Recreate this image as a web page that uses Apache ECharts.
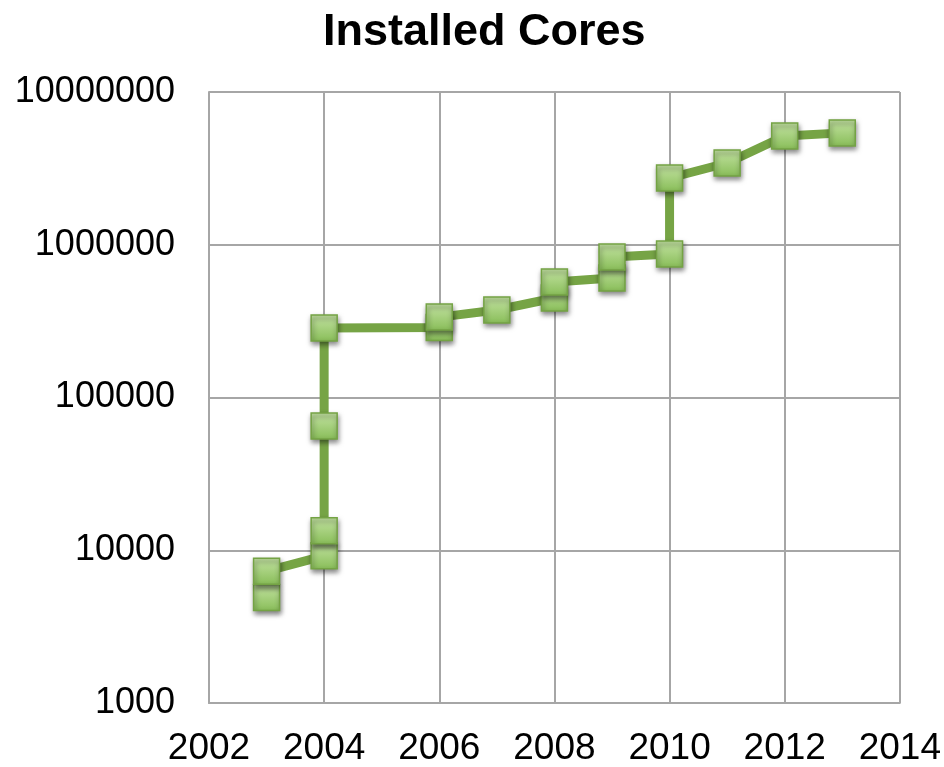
<!DOCTYPE html>
<html>
<head>
<meta charset="utf-8">
<script src="https://cdn.jsdelivr.net/npm/echarts@6/dist/echarts.min.js"></script>
<style>
  html, body { margin: 0; padding: 0; background: #fff; }
  #main { width: 944px; height: 767px; }
</style>
</head>
<body>
<div id="main"></div>
<script>
// years of each reading, in order (some years have several readings)
var years = [2003, 2003, 2004, 2004, 2004, 2004, 2006, 2006, 2007, 2008, 2008, 2009, 2009, 2010, 2010, 2011, 2012, 2013];
// installed cores
var cores = [4900, 7300, 9200, 13400, 65000, 285000, 287000, 336000, 374000, 448000, 570000, 606000, 832000, 870000, 2735000, 3430000, 5150000, 5400000];
var xTicks = [2002, 2004, 2006, 2008, 2010, 2012, 2014];
var yTicks = [1000, 10000, 100000, 1000000, 10000000];

var points = years.map(function (y, i) { return [y, cores[i]]; });

var chart = echarts.init(document.getElementById('main'));

var option = {
  animation: false,
  title: {
    text: 'Installed Cores',
    left: 318,
    top: 5,
    textStyle: { fontFamily: 'Liberation Sans, Arial', fontWeight: 'bold', fontSize: 45, color: '#000' }
  },
  grid: { left: 209, right: 41, top: 92, bottom: 60 },
  xAxis: {
    type: 'value',
    min: xTicks[0],
    max: xTicks[xTicks.length - 1],
    interval: 2,
    axisLine: { show: true, lineStyle: { color: '#a6a6a6', width: 2 } },
    axisTick: { show: false },
    splitLine: { show: true, lineStyle: { color: '#a6a6a6', width: 2 } },
    axisLabel: {
      margin: 27,
      fontFamily: 'Liberation Sans, Arial',
      fontSize: 37,
      color: '#000',
      formatter: function (v) { return String(v); }
    }
  },
  yAxis: {
    type: 'log',
    logBase: 10,
    min: yTicks[0],
    max: yTicks[yTicks.length - 1],
    axisLine: { show: true, lineStyle: { color: '#a6a6a6', width: 2 } },
    axisTick: { show: false },
    splitLine: { show: true, lineStyle: { color: '#a6a6a6', width: 2 } },
    axisLabel: {
      margin: 34,
      fontFamily: 'Liberation Sans, Arial',
      fontSize: 36,
      color: '#000',
      formatter: function (v) { return String(Math.round(v)); }
    }
  },
  series: [{
    type: 'line',
    data: points,
    symbol: 'rect',
    symbolSize: 26,
    lineStyle: { color: '#76a445', width: 9 },
    itemStyle: {
      color: new echarts.graphic.LinearGradient(0, 0, 0, 1, [
        { offset: 0, color: '#c4e3a3' },
        { offset: 1, color: '#88bd58' }
      ]),
      borderColor: '#74a344',
      borderWidth: 1.5,
      shadowBlur: 5,
      shadowOffsetY: 3,
      shadowOffsetX: 1,
      shadowColor: 'rgba(0,0,0,0.5)'
    },
    z: 3
  }]
};

chart.setOption(option);
</script>
</body>
</html>
